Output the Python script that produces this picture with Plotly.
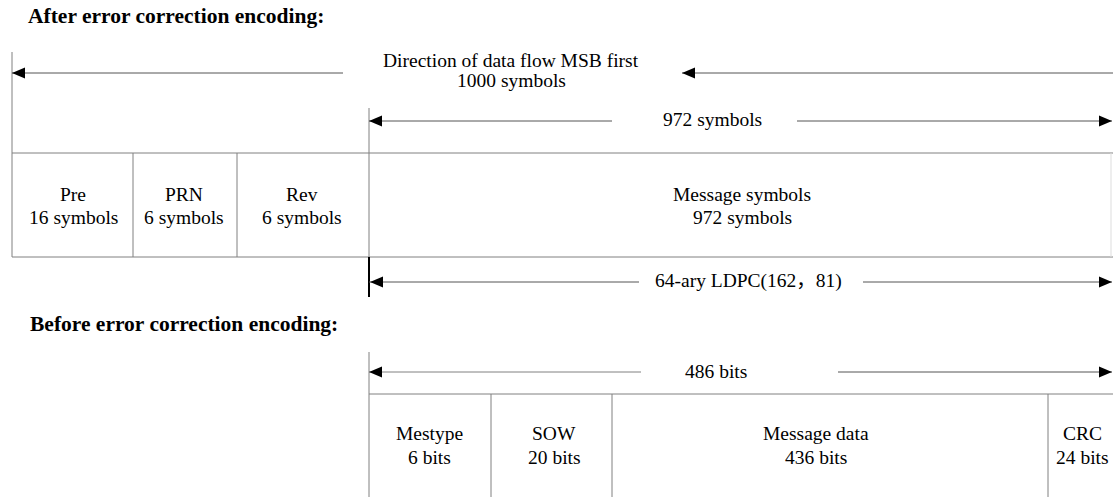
import plotly.graph_objects as go

# ---- data ----
coded_fields = ["Pre", "PRN", "Rev", "Message symbols"]
coded_sizes = ["16 symbols", "6 symbols", "6 symbols", "972 symbols"]
info_fields = ["Mestype", "SOW", "Message data", "CRC"]
info_sizes = ["6 bits", "20 bits", "436 bits", "24 bits"]
total_label = "1000 symbols"
flow_label = "Direction of data flow MSB first"
msg_label = "972 symbols"
ldpc_label = "64-ary LDPC(162，81)"
info_total_label = "486 bits"
title_after = "After error correction encoding:"
title_before = "Before error correction encoding:"

# ---- layout geometry (pixels) ----
W, H = 1113, 497
coded_edges = [12, 133, 237, 369, 1111]
coded_cx = [73, 184, 302, 742]
info_edges = [369, 491, 612, 1048]
info_cx = [429, 554, 816, 1082]
box1_top, box1_bot = 153, 257
box2_top, box2_bot = 394, 520
LINE = "#808080"
DARK = "#555555"
FONT = "Liberation Serif, Noto Sans CJK SC, serif"
FS = 19.5
TFS = 21.5

shapes = []
annotations = []


def hline(x0, x1, y, color=LINE, w=1):
    shapes.append(dict(type="line", x0=x0, x1=x1, y0=y, y1=y, xref="x", yref="y",
                       line=dict(color=color, width=w)))


def vline(x, y0, y1, color=LINE, w=1):
    shapes.append(dict(type="line", x0=x, x1=x, y0=y0, y1=y1, xref="x", yref="y",
                       line=dict(color=color, width=w)))


def tri(x, y, direction):
    L, h = 13, 5.5
    if direction == "left":
        p = f"M{x},{y} L{x+L},{y-h} L{x+L},{y+h} Z"
    else:
        p = f"M{x},{y} L{x-L},{y-h} L{x-L},{y+h} Z"
    shapes.append(dict(type="path", path=p, xref="x", yref="y",
                       fillcolor="black", line=dict(color="black", width=0)))


def text(x, y, s, size=FS, bold=False, anchor="center"):
    annotations.append(dict(x=x, y=y, xref="x", yref="y", text=f"<b>{s}</b>" if bold else s,
                            showarrow=False, xanchor=anchor, yanchor="middle",
                            font=dict(family=FONT, size=size, color="black")))


# titles
text(26, 16, title_after, size=TFS, bold=True, anchor="left")
text(28, 324, title_before, size=TFS, bold=True, anchor="left")

# top flow arrow
vline(12, 52, box1_top)
hline(12, 343, 73, color=DARK)
tri(12, 73, "left")
hline(682, 1113, 73, color=DARK)
tri(682, 73, "left")
text(511, 60, flow_label)
text(511, 80, total_label)

# 972 arrow
vline(369, 108, box1_top)
hline(369, 612, 121, color=DARK)
tri(369, 121, "left")
hline(797, 1112, 121, color=DARK)
tri(1112, 121, "right")
text(712, 119, msg_label)

# coded box
hline(coded_edges[0], W, box1_top)
hline(coded_edges[0], W, box1_bot)
for e in coded_edges:
    vline(e, box1_top, box1_bot, color=LINE if e != 1111 else "#dddddd")
for cx, f, s in zip(coded_cx, coded_fields, coded_sizes):
    text(cx, 194, f)
    text(cx, 217, s)

# LDPC arrow
vline(369, box1_bot, 297, color="black", w=2)
hline(369, 639, 282, color=DARK)
tri(370, 282, "left")
hline(863, 1112, 282, color=DARK)
tri(1112, 282, "right")
text(748, 281, ldpc_label)

# 486 arrow
vline(369, 352, box2_top)
hline(369, 641, 372, color=LINE)
tri(369, 372, "left")
hline(838, 1112, 372, color=DARK)
tri(1112, 372, "right")
text(716, 371, info_total_label)

# info box
hline(369, W, box2_top)
for e in info_edges:
    vline(e, box2_top, box2_bot)
for cx, f, s in zip(info_cx, info_fields, info_sizes):
    text(cx, 433, f)
    text(cx, 457, s)

fig = go.Figure()
fig.update_layout(
    width=W, height=H, margin=dict(l=0, r=0, t=0, b=0),
    paper_bgcolor="white", plot_bgcolor="white",
    xaxis=dict(range=[0, W], visible=False, fixedrange=True),
    yaxis=dict(range=[H, 0], visible=False, fixedrange=True),
    shapes=shapes, annotations=annotations, showlegend=False,
)
fig.write_html("out.html", config={"displayModeBar": False},
               post_script="document.body.style.margin='0';document.body.style.overflow='hidden';")
